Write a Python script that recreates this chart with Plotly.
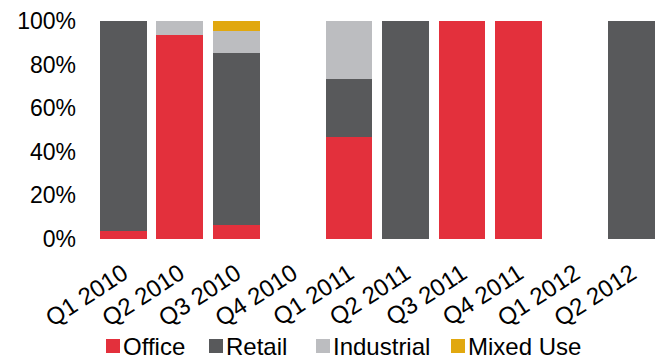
import plotly.graph_objects as go

quarters = ["Q1 2010", "Q2 2010", "Q3 2010", "Q4 2010", "Q1 2011",
            "Q2 2011", "Q3 2011", "Q4 2011", "Q1 2012", "Q2 2012"]

office = [3.7, 93.7, 6.3, 0, 46.6, 0, 100, 100, 0, 0]
retail = [96.3, 0, 79.2, 0, 26.9, 100, 0, 0, 0, 100]
industrial = [0, 6.3, 9.9, 0, 26.5, 0, 0, 0, 0, 0]
mixed_use = [0, 0, 4.6, 0, 0, 0, 0, 0, 0, 0]

y_ticks = [0, 20, 40, 60, 80, 100]
y_tick_labels = ["0%", "20%", "40%", "60%", "80%", "100%"]

series = [
    ("Office", office, "#E3303C"),
    ("Retail", retail, "#58595B"),
    ("Industrial", industrial, "#BCBDC0"),
    ("Mixed Use", mixed_use, "#E1A80F"),
]

FONT = "Liberation Sans, Arial, sans-serif"
W, H = 657, 356
ML, MR, MT, MB = 95, 0, 21, 117
PW, PH = W - ML - MR, H - MT - MB

fig = go.Figure()
for name, vals, color in series:
    fig.add_trace(go.Bar(
        x=quarters, y=vals, name=name,
        marker=dict(color=color, line=dict(width=0)),
        showlegend=False,
    ))

# Compact legend row under the axis: coloured square followed by its label
legend_left_px = [106, 209, 316, 451]
legend_y_px = 346
sq = 14
for (name, _, color), x0 in zip(series, legend_left_px):
    fig.add_shape(
        type="rect", xref="paper", yref="paper",
        x0=(x0 - ML) / PW, x1=(x0 + sq - ML) / PW,
        y0=(H - MB - (legend_y_px + sq / 2)) / PH,
        y1=(H - MB - (legend_y_px - sq / 2)) / PH,
        fillcolor=color, line=dict(width=0), layer="above",
    )
    fig.add_annotation(
        text=name, xref="paper", yref="paper",
        x=(x0 + sq + 2 - ML) / PW,
        y=(H - MB - legend_y_px) / PH,
        xanchor="left", yanchor="middle", showarrow=False,
        borderpad=0,
        font=dict(family=FONT, size=24, color="#000000"),
    )

fig.update_layout(
    barmode="stack",
    bargap=0.175,
    width=W, height=H,
    margin=dict(l=ML, r=MR, t=MT, b=MB),
    paper_bgcolor="white", plot_bgcolor="white",
    font=dict(family=FONT, size=23, color="#000000"),
    showlegend=False,
    xaxis=dict(
        type="category", range=[-0.5, 9.45],
        tickangle=-33, showgrid=False, showline=False, zeroline=False,
        ticks="", tickfont=dict(family=FONT, size=24),
        ticklabelstandoff=15, automargin=False,
        fixedrange=True,
    ),
    yaxis=dict(
        range=[0, 100], tickmode="array", tickvals=y_ticks, ticktext=y_tick_labels,
        showgrid=False, showline=False, zeroline=False, ticks="",
        tickfont=dict(family=FONT, size=23), ticklabelstandoff=18,
        automargin=False, fixedrange=True,
    ),
)

fig.write_html("out.html")
